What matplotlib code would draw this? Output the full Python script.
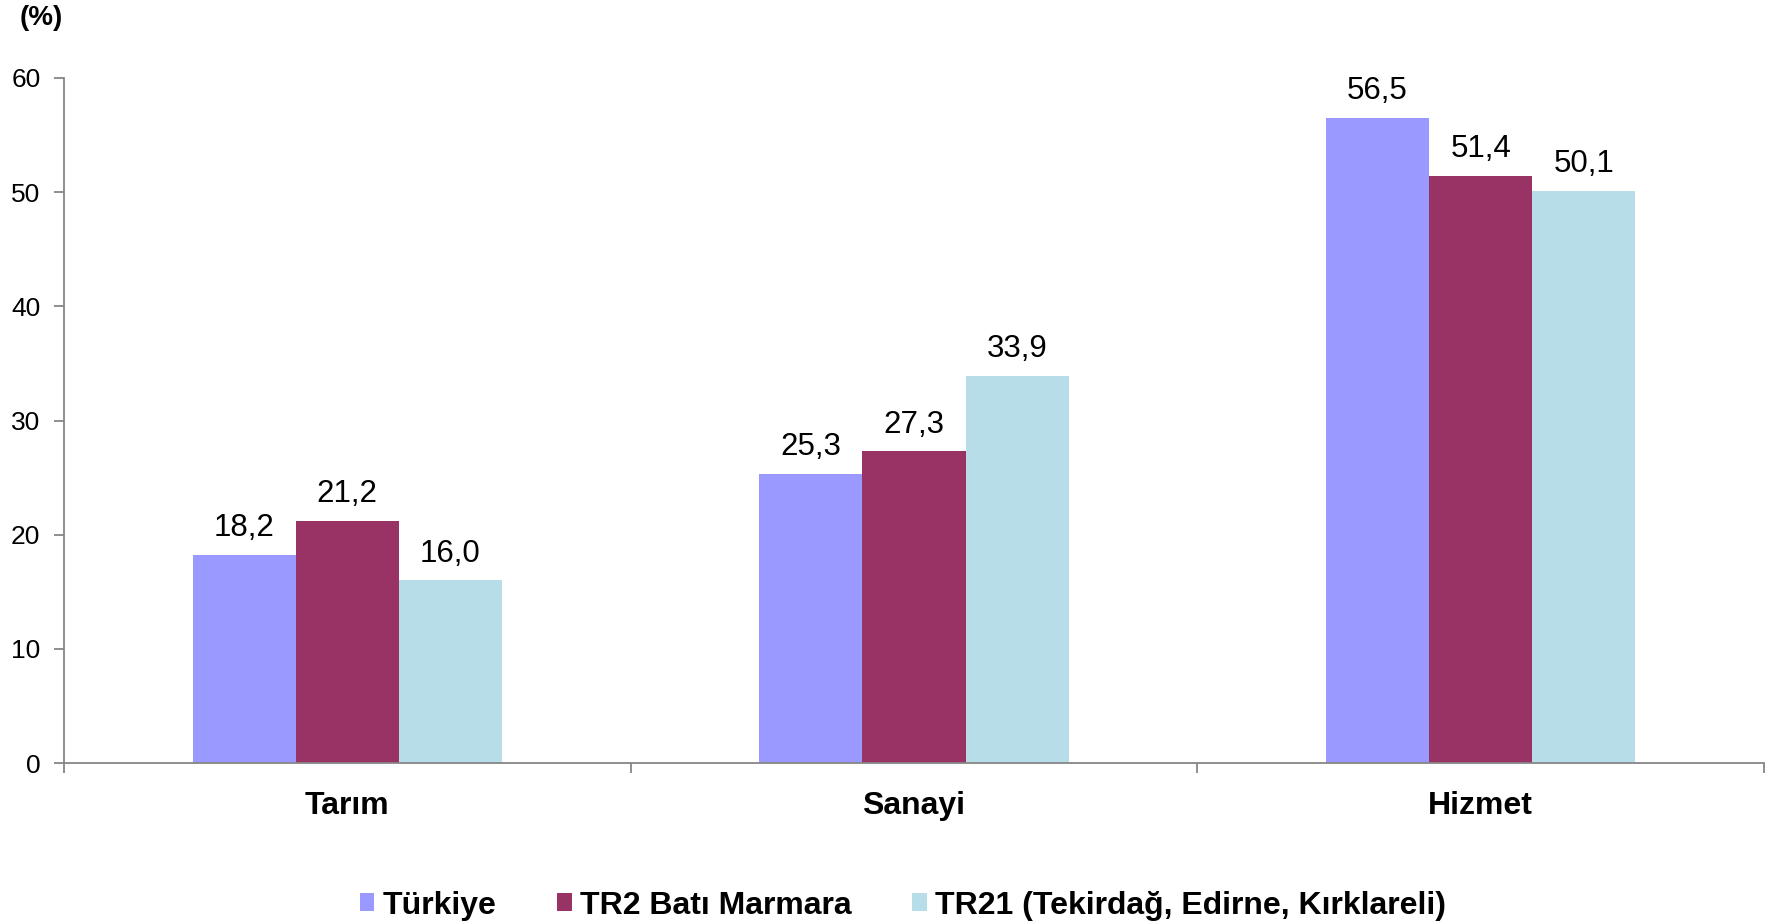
import matplotlib
matplotlib.use("Agg")
import matplotlib.pyplot as plt
from matplotlib.ticker import FixedLocator, NullFormatter
import numpy as np

categories = ["Tarım", "Sanayi", "Hizmet"]
series_names = ["Türkiye", "TR2 Batı Marmara", "TR21 (Tekirdağ, Edirne, Kırklareli)"]
turkiye = [18.2, 25.3, 56.5]
tr2 = [21.2, 27.3, 51.4]
tr21 = [16.0, 33.9, 50.1]
y_ticks = [0, 10, 20, 30, 40, 50, 60]
colors = ["#9999FF", "#993366", "#B7DEE8"]

plt.rcParams['font.family'] = ['Liberation Sans', 'DejaVu Sans']

fig = plt.figure(figsize=(17.68, 9.24), dpi=100)
ax = fig.add_axes([0.0362, 0.1742, 0.9615, 0.7414])

x = np.arange(len(categories))
w = 0.182
data = [turkiye, tr2, tr21]
handles = []
for i, (vals, name, col) in enumerate(zip(data, series_names, colors)):
    bars = ax.bar(x + (i - 1) * w, vals, width=w, color=col, label=name, zorder=2)
    handles.append(bars)
    for xi, v in zip(x + (i - 1) * w, vals):
        ax.annotate(f"{v:.1f}".replace(".", ","), (xi, v), xytext=(0, 8.5),
                    textcoords="offset points", ha="center", va="bottom",
                    fontsize=22.5, color="black")

ax.set_xlim(-0.5, len(categories) - 0.5)
ax.set_ylim(0, 60)
ax.set_yticks(y_ticks)
ax.set_yticklabels([str(t) for t in y_ticks])

ax.set_xticks(x)
ax.set_xticklabels(categories, fontsize=23, fontweight="bold")
ax.xaxis.set_minor_locator(FixedLocator(np.arange(len(categories) + 1) - 0.5))
ax.xaxis.set_minor_formatter(NullFormatter())
ax.tick_params(axis="x", which="major", length=0, pad=20)
ax.tick_params(axis="x", which="minor", length=7, width=1.3, color="#868686", direction="out")
ax.tick_params(axis="y", length=7, width=1.3, color="#868686", direction="out",
               labelsize=19, pad=10)

for s in ["top", "right"]:
    ax.spines[s].set_visible(False)
for s in ["left", "bottom"]:
    ax.spines[s].set_color("#868686")
    ax.spines[s].set_linewidth(1.3)

fig.text(0.0113, 0.980, "(%)", fontsize=20, fontweight="bold", ha="left", va="center")

leg = fig.legend(handles=handles, labels=series_names, loc="center",
                 bbox_to_anchor=(0.5105, 0.020), ncol=3, frameon=False,
                 prop={"size": 23, "weight": "bold"},
                 handlelength=0.46, handleheight=0.46, handletextpad=0.25,
                 columnspacing=1.9)

fig.savefig("out.png", dpi=100)
